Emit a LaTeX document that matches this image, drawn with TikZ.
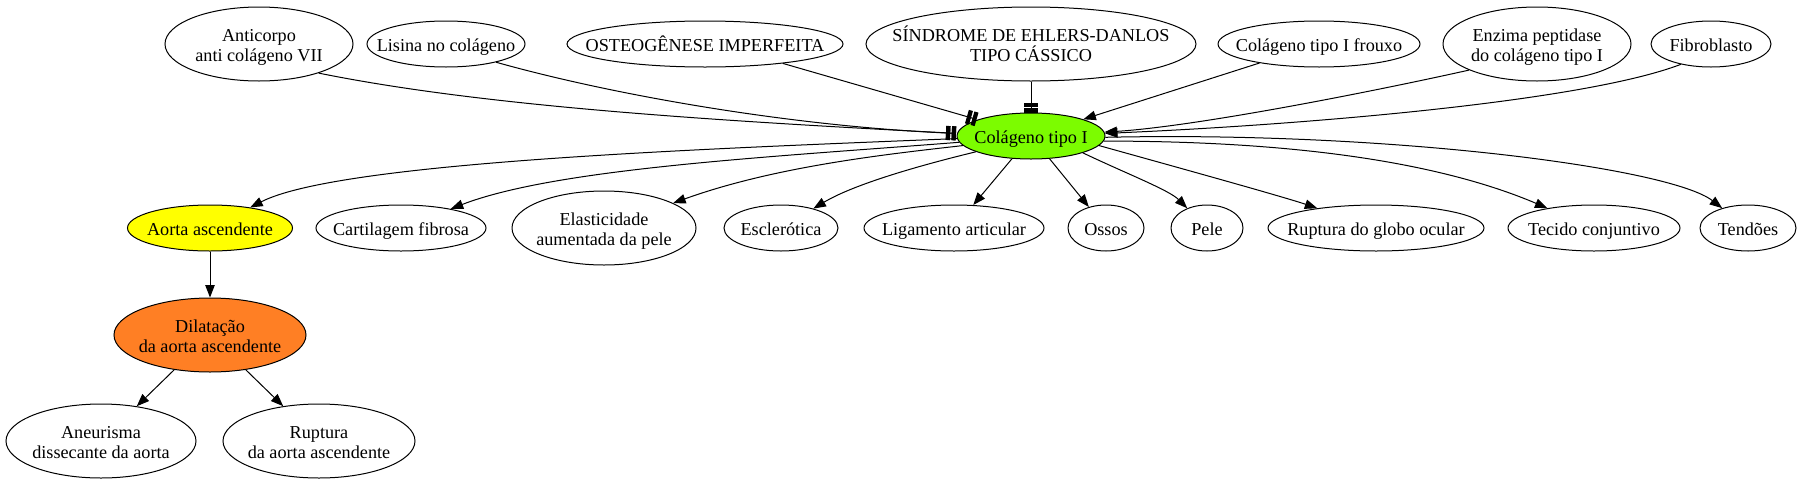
\documentclass[tikz,border=0pt]{standalone}
\usepackage{fontspec}
\setmainfont{Liberation Serif}
\usetikzlibrary{arrows.meta,shapes.geometric}
\definecolor{colgreen}{RGB}{124,252,0}
\definecolor{aortay}{RGB}{255,255,0}
\definecolor{dilor}{RGB}{255,127,36}
\newcommand\lone[1]{\makebox[0pt]{\raisebox{-7.5pt}[0pt][0pt]{#1}}}
\newcommand\ltwo[2]{\makebox[0pt]{\raisebox{3pt}[0pt][0pt]{\makebox[0pt]{#1}}\raisebox{-17pt}[0pt][0pt]{\makebox[0pt]{#2}}}}
\tikzset{
  nd/.style={ellipse, draw, line width=1pt, inner sep=0pt, font=\fontsize{18.2pt}{20pt}\selectfont},
  arr/.style={line width=1pt, -{Triangle[length=12.5pt,width=9.5pt]}},
  tt/.style={line width=1pt, shorten >=1pt, -{Rectangle[length=4.2pt,width=14pt,sep=1.6pt]Rectangle[length=4.2pt,width=14pt]}},
}
\begin{document}
\begin{tikzpicture}[x=1pt,y=-1pt]
\path[use as bounding box, fill=white] (0,0) rectangle (1801,485);
% top row
\node[nd, minimum width=188pt, minimum height=74pt] (anti) at (259,44) {\ltwo{Anticorpo}{anti colágeno VII}};
\node[nd, minimum width=158pt, minimum height=46pt] (lis) at (446,44) {\lone{Lisina no colágeno}};
\node[nd, minimum width=276pt, minimum height=46pt] (osteo) at (705,44) {\lone{OSTEOGÊNESE IMPERFEITA}};
\node[nd, minimum width=330pt, minimum height=74pt] (sind) at (1031,44) {\ltwo{SÍNDROME DE EHLERS-DANLOS}{TIPO CÁSSICO}};
\node[nd, minimum width=202pt, minimum height=46pt] (frou) at (1319,44) {\lone{Colágeno tipo I frouxo}};
\node[nd, minimum width=188pt, minimum height=74pt] (enz) at (1537,44) {\ltwo{Enzima peptidase}{do colágeno tipo I}};
\node[nd, minimum width=120pt, minimum height=46pt] (fib) at (1711,44) {\lone{Fibroblasto}};
% centre
\node[nd, fill=colgreen, minimum width=148pt, minimum height=46pt] (col) at (1031,136) {\lone{Colágeno tipo I}};
% middle row
\node[nd, fill=aortay, minimum width=165pt, minimum height=46pt] (aorta) at (210,228) {\lone{Aorta ascendente}};
\node[nd, minimum width=170pt, minimum height=46pt] (cart) at (401,228) {\lone{Cartilagem fibrosa}};
\node[nd, minimum width=184pt, minimum height=74pt] (elast) at (604,228) {\ltwo{Elasticidade}{aumentada da pele}};
\node[nd, minimum width=114pt, minimum height=46pt] (escl) at (781,228) {\lone{Esclerótica}};
\node[nd, minimum width=180pt, minimum height=46pt] (liga) at (954,228) {\lone{Ligamento articular}};
\node[nd, minimum width=76pt, minimum height=46pt] (ossos) at (1106,228) {\lone{Ossos}};
\node[nd, minimum width=72pt, minimum height=46pt] (pele) at (1207,228) {\lone{Pele}};
\node[nd, minimum width=216pt, minimum height=46pt] (glob) at (1376,228) {\lone{Ruptura do globo ocular}};
\node[nd, minimum width=172pt, minimum height=46pt] (tec) at (1594,228) {\lone{Tecido conjuntivo}};
\node[nd, minimum width=96pt, minimum height=46pt] (tend) at (1748,228) {\lone{Tendões}};
% bottom
\node[nd, fill=dilor, minimum width=192pt, minimum height=74pt] (dil) at (210,335) {\ltwo{Dilatação}{da aorta ascendente}};
\node[nd, minimum width=190pt, minimum height=74pt] (aneu) at (101,441) {\ltwo{Aneurisma}{dissecante da aorta}};
\node[nd, minimum width=192pt, minimum height=74pt] (rupa) at (319,441) {\ltwo{Ruptura}{da aorta ascendente}};
% incoming edges
\draw[tt] (anti.-26) .. controls (486,107) and (721,121) .. (col.178);
\draw[tt] (lis.-20) .. controls (620,97) and (800,127) .. (col.178);
\draw[tt] (osteo.-14.4) -- (col.163);
\draw[tt, shorten >=0pt] (sind) -- (col);
\draw[arr] (frou) -- (col);
\draw[arr] (enz.201.7) .. controls (1380,90) and (1200,126) .. (col.3);
\draw[arr] (fib.214.7) .. controls (1582,102) and (1300,125) .. (col.2);
% outgoing edges
\draw[arr] (col.182) .. controls (700,149) and (339,162) .. (aorta);
\draw[arr] (col.185) .. controls (772,157) and (557,168) .. (cart);
\draw[arr] (col.188) .. controls (889,154) and (776,166) .. (elast);
\draw[arr] (col.196) .. controls (909,168) and (851,186) .. (escl);
\draw[arr] (col) -- (liga);
\draw[arr] (col) -- (ossos);
\draw[arr] (col.-18) .. controls (1125,173) and (1169,190) .. (pele);
\draw[arr] (col.-8) .. controls (1158,162) and (1281,196) .. (glob);
\draw[arr] (col.-4) .. controls (1319,141) and (1453,168) .. (tec);
\draw[arr] (col.-1) .. controls (1391,131) and (1670,168) .. (tend);
% aorta chain
\draw[arr] (aorta) -- (dil);
\draw[arr] (dil) -- (aneu);
\draw[arr] (dil) -- (rupa);
\end{tikzpicture}
\end{document}
